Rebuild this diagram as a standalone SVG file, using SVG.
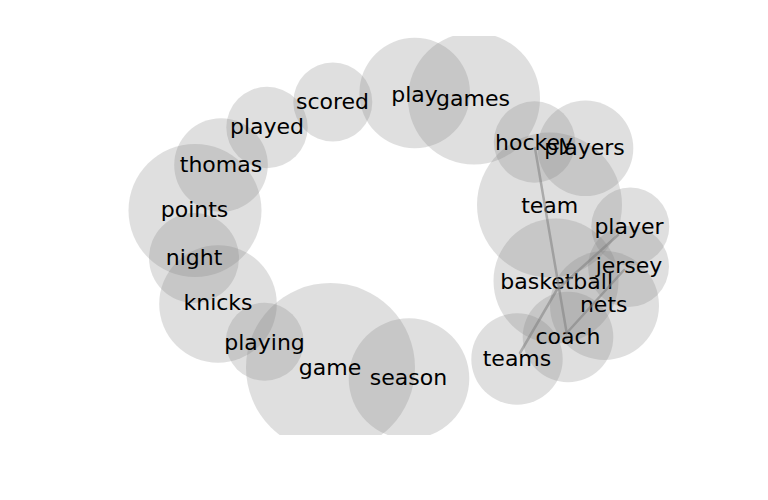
<svg xmlns="http://www.w3.org/2000/svg" width="768" height="500" viewBox="0 0 768 500">
<style>
.c{fill:#808080;fill-opacity:0.25;stroke:none}
.t{font-family:"DejaVu Sans","Liberation Sans",sans-serif;font-size:22px;fill:#000;text-anchor:middle}
.e{fill:none;stroke:#808080;stroke-opacity:0.55;stroke-width:2.5;stroke-linecap:round;stroke-linejoin:round}
</style>
<defs><clipPath id="ax"><rect x="0" y="36" width="768" height="399"/></clipPath></defs>
<rect width="768" height="500" fill="#fff"/>
<g clip-path="url(#ax)">
<g id="nodes">
<g id="n-play"><circle class="c" cx="414.7" cy="93" r="55.3"/></g>
<g id="n-games"><circle class="c" cx="474" cy="98.5" r="66"/></g>
<g id="n-scored"><circle class="c" cx="332.8" cy="102" r="39.5"/></g>
<g id="n-played"><circle class="c" cx="267" cy="127.5" r="40.7"/></g>
<g id="n-thomas"><circle class="c" cx="221" cy="165" r="46.8"/></g>
<g id="n-points"><circle class="c" cx="195" cy="210.5" r="66.5"/></g>
<g id="n-night"><circle class="c" cx="194" cy="258" r="45"/></g>
<g id="n-knicks"><circle class="c" cx="218" cy="304" r="58.8"/></g>
<g id="n-playing"><circle class="c" cx="264.7" cy="341.8" r="39"/></g>
<g id="n-game"><circle class="c" cx="330.5" cy="367.5" r="84.5"/></g>
<g id="n-season"><circle class="c" cx="409" cy="378.6" r="60.3"/></g>
<g id="n-hockey"><circle class="c" cx="534.5" cy="142" r="40.7"/></g>
<g id="n-players"><circle class="c" cx="585.5" cy="148.3" r="47.8"/></g>
<g id="n-team"><circle class="c" cx="549.5" cy="205" r="72.5"/></g>
<g id="n-player"><circle class="c" cx="630.3" cy="226.5" r="39"/></g>
<g id="n-jersey"><circle class="c" cx="628.5" cy="266.5" r="40.5"/></g>
<g id="n-nets"><circle class="c" cx="604.5" cy="305.5" r="54.5"/></g>
<g id="n-basketball"><circle class="c" cx="556" cy="281" r="62.5"/></g>
<g id="n-coach"><circle class="c" cx="568" cy="337" r="45.3"/></g>
<g id="n-teams"><circle class="c" cx="517" cy="359" r="45.7"/></g>
</g>
<g id="labels">
<text id="l-play" class="t" x="414.5" y="101.5">play</text>
<text id="l-games" class="t" x="473" y="106">games</text>
<text id="l-scored" class="t" x="332.5" y="109">scored</text>
<text id="l-played" class="t" x="267" y="133.5">played</text>
<text id="l-thomas" class="t" x="221" y="171.5">thomas</text>
<text id="l-points" class="t" x="194.5" y="216.5">points</text>
<text id="l-night" class="t" x="194" y="265">night</text>
<text id="l-knicks" class="t" x="218" y="310">knicks</text>
<text id="l-playing" class="t" x="264.5" y="349.5">playing</text>
<text id="l-game" class="t" x="330" y="375">game</text>
<text id="l-season" class="t" x="408.5" y="385">season</text>
<text id="l-hockey" class="t" x="534" y="150">hockey</text>
<text id="l-players" class="t" x="584.5" y="154.5">players</text>
<text id="l-team" class="t" x="549.7" y="213">team</text>
<text id="l-player" class="t" x="629" y="234">player</text>
<text id="l-jersey" class="t" x="629" y="273">jersey</text>
<text id="l-nets" class="t" x="603.7" y="311.5">nets</text>
<text id="l-basketball" class="t" x="556.7" y="289">basketball</text>
<text id="l-coach" class="t" x="568" y="344">coach</text>
<text id="l-teams" class="t" x="517" y="366">teams</text>
</g>
<g id="connectors">
<polyline class="e" points="618,235 556.7,290 520,353"/>
<line class="e" x1="535" y1="148" x2="566.7" y2="333"/>
<line class="e" x1="624" y1="270" x2="566.7" y2="333"/>
</g>
</g>
</svg>
